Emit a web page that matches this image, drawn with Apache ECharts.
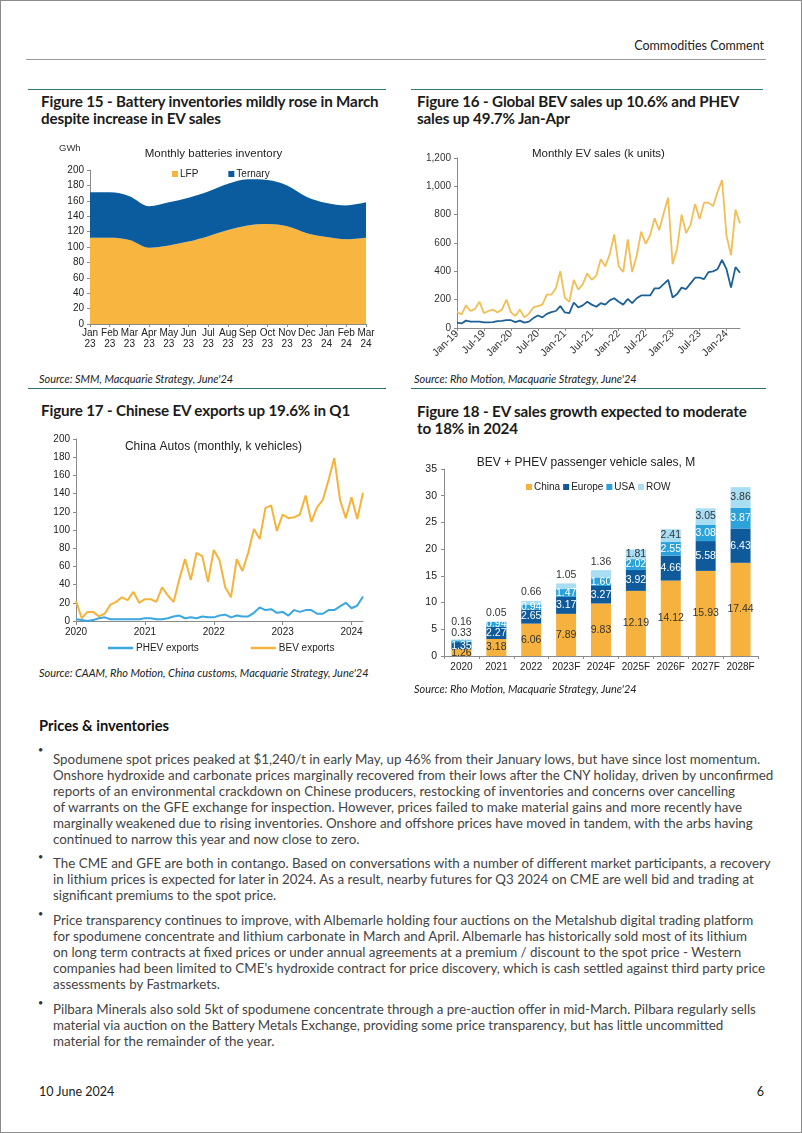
<!DOCTYPE html>
<html><head><meta charset="utf-8">
<script src="https://cdn.jsdelivr.net/npm/echarts@6/dist/echarts.min.js"></script>
<style>
html,body{margin:0;padding:0;background:#fff;}
#page{position:relative;width:802px;height:1133px;border:1px solid #8c8c8c;box-sizing:border-box;overflow:hidden;font-family:Lato,'Liberation Sans',sans-serif;background:#fff;}
.abs{position:absolute;white-space:nowrap;}
.abs span, .para span{display:inline-block;white-space:nowrap;}
.hr{position:absolute;height:0;}
.ftitle{font-weight:bold;color:#1b1b1b;font-size:14px;line-height:17px;}
.src{font-style:italic;color:#222;font-size:10.5px;line-height:12px;}
.chart{position:absolute;}
.para{position:absolute;left:52px;color:#444;font-size:13px;line-height:16.1px;}
.para div{height:16.1px;}
.bul{position:absolute;left:37px;font-size:9px;color:#333;}
</style></head>
<body>
<div id="page">
  <div class="abs" style="right:37px;top:37px;font-size:12.5px;color:#222;"><span>Commodities Comment</span></div>
  <div class="hr" style="left:25px;width:740px;top:58px;border-top:1px solid #9a9a9a;"></div>

  <div class="hr" style="left:27px;width:358px;top:88px;border-top:1px solid #2b7a78;"></div>
  <div class="hr" style="left:410px;width:352px;top:88px;border-top:1px solid #2b7a78;"></div>
  <div class="abs ftitle" style="left:40px;top:92px;"><span id="t15a">Figure 15 - Battery inventories mildly rose in March</span><br><span>despite increase in EV sales</span></div>
  <div class="abs ftitle" style="left:416px;top:92px;"><span>Figure 16 - Global BEV sales up 10.6% and PHEV</span><br><span>sales up 49.7% Jan-Apr</span></div>

  <div id="c15" class="chart" style="left:40px;top:135px;width:345px;height:235px;"></div>
  <div id="c16" class="chart" style="left:410px;top:135px;width:350px;height:235px;"></div>

  <div class="abs src" style="left:38px;top:372px;"><span>Source: SMM, Macquarie Strategy, June'24</span></div>
  <div class="abs src" style="left:413px;top:372px;"><span>Source: Rho Motion, Macquarie Strategy, June'24</span></div>
  <div class="hr" style="left:27px;width:358px;top:387px;border-top:1px solid #2b6f6e;"></div>
  <div class="hr" style="left:410px;width:355px;top:387px;border-top:1px solid #2b6f6e;"></div>

  <div class="abs ftitle" style="left:40px;top:401px;"><span>Figure 17 - Chinese EV exports up 19.6% in Q1</span></div>
  <div class="abs ftitle" style="left:416px;top:402px;"><span>Figure 18 - EV sales growth expected to moderate</span><br><span>to 18% in 2024</span></div>

  <div id="c17" class="chart" style="left:40px;top:425px;width:345px;height:240px;"></div>
  <div id="c18" class="chart" style="left:410px;top:445px;width:350px;height:250px;"></div>

  <div class="abs src" style="left:38px;top:666px;"><span id="srcLong">Source: CAAM, Rho Motion, China customs, Macquarie Strategy, June'24</span></div>
  <div class="abs src" style="left:413px;top:682px;"><span>Source: Rho Motion, Macquarie Strategy, June'24</span></div>

  <div class="abs" style="left:38px;top:716px;font-weight:bold;font-size:15px;color:#111;"><span id="hPrices">Prices &amp; inventories</span></div>

  <div class="bul" style="top:743px;">•</div>
  <div class="para" style="top:750px;">
    <div><span id="bodyRef">Spodumene spot prices peaked at $1,240/t in early May, up 46% from their January lows, but have since lost momentum.</span></div>
    <div><span>Onshore hydroxide and carbonate prices marginally recovered from their lows after the CNY holiday, driven by unconfirmed</span></div>
    <div><span>reports of an environmental crackdown on Chinese producers, restocking of inventories and concerns over cancelling</span></div>
    <div><span>of warrants on the GFE exchange for inspection. However, prices failed to make material gains and more recently have</span></div>
    <div><span>marginally weakened due to rising inventories. Onshore and offshore prices have moved in tandem, with the arbs having</span></div>
    <div><span>continued to narrow this year and now close to zero.</span></div>
  </div>

  <div class="bul" style="top:850px;">•</div>
  <div class="para" style="top:854px;">
    <div><span>The CME and GFE are both in contango. Based on conversations with a number of different market participants, a recovery</span></div>
    <div><span>in lithium prices is expected for later in 2024. As a result, nearby futures for Q3 2024 on CME are well bid and trading at</span></div>
    <div><span>significant premiums to the spot price.</span></div>
  </div>

  <div class="bul" style="top:907px;">•</div>
  <div class="para" style="top:911px;">
    <div><span>Price transparency continues to improve, with Albemarle holding four auctions on the Metalshub digital trading platform</span></div>
    <div><span>for spodumene concentrate and lithium carbonate in March and April. Albemarle has historically sold most of its lithium</span></div>
    <div><span>on long term contracts at fixed prices or under annual agreements at a premium / discount to the spot price - Western</span></div>
    <div><span>companies had been limited to CME's hydroxide contract for price discovery, which is cash settled against third party price</span></div>
    <div><span>assessments by Fastmarkets.</span></div>
  </div>

  <div class="bul" style="top:996px;">•</div>
  <div class="para" style="top:1000px;">
    <div><span>Pilbara Minerals also sold 5kt of spodumene concentrate through a pre-auction offer in mid-March. Pilbara regularly sells</span></div>
    <div><span>material via auction on the Battery Metals Exchange, providing some price transparency, but has little uncommitted</span></div>
    <div><span>material for the remainder of the year.</span></div>
  </div>

  <div class="abs" style="left:38px;top:1083px;font-size:12.5px;color:#222;"><span>10 June 2024</span></div>
  <div class="abs" style="right:37px;top:1083px;font-size:12.5px;color:#222;"><span>6</span></div>
</div>

<script>
// ---------- text fitting ----------
function fitSize(id, target){
  const el=document.getElementById(id);
  const w=el.getBoundingClientRect().width;
  const fs=parseFloat(getComputedStyle(el).fontSize);
  return fs*target/w;
}
(function(){
  const ft=fitSize('t15a',345);
  document.querySelectorAll('.ftitle').forEach(e=>{e.style.fontSize=ft+'px';e.style.lineHeight='17px';e.style.letterSpacing='-0.15px';});
  const bs=fitSize('bodyRef',708);
  document.querySelectorAll('.para').forEach(e=>{e.style.fontSize=bs+'px';});
  const ss=fitSize('srcLong',330);
  document.querySelectorAll('.src').forEach(e=>{e.style.fontSize=ss+'px';});
  const hs=fitSize('hPrices',130);
  document.getElementById('hPrices').parentNode.style.fontSize=hs+'px';
})();

// ---------- data ----------
// Figure 15
const inv15Months = ['Jan\n23','Feb\n23','Mar\n23','Apr\n23','May\n23','Jun\n23','Jul\n23','Aug\n23','Sep\n23','Oct\n23','Nov\n23','Dec\n23','Jan\n24','Feb\n24','Mar\n24'];
const lfpInv     = [112,112,109, 99,102,107,114,122,128,130,127,118,113,110,112];
const ternaryInv = [ 59, 59, 57, 54, 56, 57, 58, 60, 60, 57, 53, 47, 44, 44, 46];
const inv15Ticks = [0,200,20];

// Figure 16
const evMonths = [
 'Jan-19','Feb-19','Mar-19','Apr-19','May-19','Jun-19','Jul-19','Aug-19','Sep-19','Oct-19','Nov-19','Dec-19',
 'Jan-20','Feb-20','Mar-20','Apr-20','May-20','Jun-20','Jul-20','Aug-20','Sep-20','Oct-20','Nov-20','Dec-20',
 'Jan-21','Feb-21','Mar-21','Apr-21','May-21','Jun-21','Jul-21','Aug-21','Sep-21','Oct-21','Nov-21','Dec-21',
 'Jan-22','Feb-22','Mar-22','Apr-22','May-22','Jun-22','Jul-22','Aug-22','Sep-22','Oct-22','Nov-22','Dec-22',
 'Jan-23','Feb-23','Mar-23','Apr-23','May-23','Jun-23','Jul-23','Aug-23','Sep-23','Oct-23','Nov-23','Dec-23',
 'Jan-24','Feb-24','Mar-24','Apr-24'];
const bevSales = [
 115, 95,160,120,135,185,105,120,130,110,130,200,
 110, 85,130, 75,100,145,155,165,235,235,280,400,
 215,185,340,270,310,385,340,370,485,435,520,660,
 435,395,625,395,510,680,595,655,775,690,810,920,
 450,560,800,670,730,875,770,885,885,860,960,1045,
 650,515,835,740];
const phevSales = [
  38, 32, 52, 45, 45, 45, 40, 40, 42, 48, 50, 55,
  55, 42, 52, 38, 45, 70, 88, 75,100,112,120,155,
 110,105,180,145,160,185,165,150,175,165,195,210,
 185,165,205,175,210,230,230,230,280,280,310,340,
 215,240,285,275,315,355,355,345,395,400,415,480,
 415,285,430,390];

// Figure 17
const expMonths = [
 'Jan-20','Feb-20','Mar-20','Apr-20','May-20','Jun-20','Jul-20','Aug-20','Sep-20','Oct-20','Nov-20','Dec-20',
 'Jan-21','Feb-21','Mar-21','Apr-21','May-21','Jun-21','Jul-21','Aug-21','Sep-21','Oct-21','Nov-21','Dec-21',
 'Jan-22','Feb-22','Mar-22','Apr-22','May-22','Jun-22','Jul-22','Aug-22','Sep-22','Oct-22','Nov-22','Dec-22',
 'Jan-23','Feb-23','Mar-23','Apr-23','May-23','Jun-23','Jul-23','Aug-23','Sep-23','Oct-23','Nov-23','Dec-23',
 'Jan-24','Feb-24','Mar-24'];
const bevExports = [
 22,  3, 10, 10,  5,  8, 18, 21, 26, 23, 32, 20,
 24, 24, 21, 37, 28, 21, 46, 68, 45, 75, 71, 43,
 78, 67, 37, 26, 68, 55, 75,101, 90,124,127, 99,
117,113,114,117,138,109,125,133,155,179,133,113,
136,112,141];
const phevExports = [
  2,  1,  0,  1,  3,  4,  2,  2,  2,  2,  2,  2,
  3,  3,  2,  2,  3,  5,  6,  3,  4,  3,  5,  4,
  4,  6,  7,  4,  6,  5,  5,  9, 15, 12, 13,  9,
 10,  6, 12, 10, 12, 12,  8,  8, 12, 12, 16, 20,
 14, 17, 27];

// Figure 18
const salesYears = ['2020','2021','2022','2023F','2024F','2025F','2026F','2027F','2028F'];
const chinaSales  = [1.26, 3.18, 6.06, 7.89, 9.83,12.19,14.12,15.93,17.44];
const europeSales = [1.35, 2.27, 2.65, 3.17, 3.27, 3.92, 4.66, 5.58, 6.43];
const usaSales    = [0.33, 0.94, 0.94, 1.47, 1.60, 2.02, 2.55, 3.08, 3.87];
const rowSales    = [0.16, 0.05, 0.66, 1.05, 1.36, 1.81, 2.41, 3.05, 3.86];

// ---------- charts ----------
const FONT = "'Liberation Sans', Arial, sans-serif";
const axisGray = '#8a8a8a';

// Figure 15
const c15 = echarts.init(document.getElementById('c15'));
c15.setOption({
  animation:false,
  textStyle:{fontFamily:FONT},
  title:{text:'Monthly batteries inventory',left:'center',top:7,textStyle:{fontSize:11.5,fontWeight:'normal',color:'#222',fontFamily:FONT}},
  graphic:[{type:'text',left:18,top:7,style:{text:'GWh',fontSize:9.5,fill:'#333',fontFamily:FONT}}],
  legend:{left:126,top:28,itemWidth:6,itemHeight:6,itemGap:30,icon:'rect',textStyle:{fontSize:10,color:'#222',fontFamily:FONT,padding:[0,0,0,-3]},data:['LFP','Ternary']},
  grid:{left:49,right:20,top:34,bottom:47},
  xAxis:{type:'category',boundaryGap:false,data:inv15Months,
    axisLine:{lineStyle:{color:axisGray}},axisTick:{show:true,interval:0,length:3,lineStyle:{color:axisGray}},
    axisLabel:{interval:0,fontSize:10,color:'#222',lineHeight:11,margin:4,fontFamily:FONT}},
  yAxis:{type:'value',min:inv15Ticks[0],max:inv15Ticks[1],interval:inv15Ticks[2],splitLine:{show:false},
    axisLine:{show:true,lineStyle:{color:axisGray}},axisTick:{show:true,length:3,lineStyle:{color:axisGray}},
    axisLabel:{fontSize:10,color:'#222',margin:6,fontFamily:FONT}},
  series:[
    {name:'LFP',type:'line',stack:'inv',data:lfpInv,smooth:0.35,showSymbol:false,lineStyle:{width:0},areaStyle:{color:'#F8B540',opacity:1},itemStyle:{color:'#F8B540'}},
    {name:'Ternary',type:'line',stack:'inv',data:ternaryInv,smooth:0.35,showSymbol:false,lineStyle:{width:0},areaStyle:{color:'#0B5C9E',opacity:1},itemStyle:{color:'#0B5C9E'}}
  ]
});

// Figure 16
const c16 = echarts.init(document.getElementById('c16'));
c16.setOption({
  animation:false,
  textStyle:{fontFamily:FONT},
  title:{text:'Monthly EV sales (k units)',left:116,top:7,textStyle:{fontSize:11.5,fontWeight:'normal',color:'#222',fontFamily:FONT}},
  grid:{left:46,right:21,top:22,bottom:43},
  xAxis:{type:'category',boundaryGap:false,data:evMonths,
    axisLine:{lineStyle:{color:axisGray}},axisTick:{show:true,interval:5,length:3,lineStyle:{color:axisGray}},
    axisLabel:{interval:5,rotate:45,fontSize:10.5,color:'#333',margin:4,fontFamily:FONT,hideOverlap:false,overflow:'none'}},
  yAxis:{type:'value',min:0,max:1200,interval:200,splitLine:{show:false},
    axisLine:{show:true,lineStyle:{color:axisGray}},axisTick:{show:true,length:3,lineStyle:{color:axisGray}},
    axisLabel:{fontSize:10,color:'#333',margin:6,fontFamily:FONT}},
  series:[
    {name:'BEV',type:'line',data:bevSales,showSymbol:false,lineStyle:{width:1.8,color:'#F2BE55'},itemStyle:{color:'#F2BE55'}},
    {name:'PHEV',type:'line',data:phevSales,showSymbol:false,lineStyle:{width:1.8,color:'#1D6096'},itemStyle:{color:'#1D6096'}}
  ]
});

// Figure 17
const c17 = echarts.init(document.getElementById('c17'));
c17.setOption({
  animation:false,
  textStyle:{fontFamily:FONT},
  title:{text:'China Autos (monthly, k vehicles)',left:'center',top:10,textStyle:{fontSize:12,fontWeight:'normal',color:'#222',fontFamily:FONT}},
  legend:{left:62,top:212,itemWidth:25,itemHeight:2.5,icon:'rect',itemGap:52,textStyle:{fontSize:10,color:'#222',fontFamily:FONT,padding:[0,0,0,-2]},data:['PHEV exports','BEV exports']},
  grid:{left:35,right:23,top:13,bottom:45},
  xAxis:{type:'category',boundaryGap:false,data:expMonths,
    axisLine:{lineStyle:{color:axisGray}},axisTick:{show:true,interval:11,length:4,lineStyle:{color:axisGray}},
    axisLabel:{interval:11,fontSize:10,color:'#222',margin:6,fontFamily:FONT,formatter:v=>'20'+v.slice(4)}},
  yAxis:{type:'value',min:0,max:200,interval:20,splitLine:{show:false},
    axisLine:{show:true,lineStyle:{color:axisGray}},axisTick:{show:true,length:3,lineStyle:{color:axisGray}},
    axisLabel:{fontSize:10,color:'#222',margin:6,fontFamily:FONT}},
  series:[
    {name:'PHEV exports',type:'line',data:phevExports,showSymbol:false,lineStyle:{width:2,color:'#3AA8DE'},itemStyle:{color:'#3AA8DE'}},
    {name:'BEV exports',type:'line',data:bevExports,showSymbol:false,lineStyle:{width:2,color:'#F5B33A'},itemStyle:{color:'#F5B33A'}}
  ]
});

// Figure 18
const regionNames = ['China','Europe','USA','ROW'];
const regionVals = [chinaSales, europeSales, usaSales, rowSales];
const regionColors = ['#F6B23E','#0E5A9A','#2BA3DA','#A9DDF3'];
const c18 = echarts.init(document.getElementById('c18'));
c18.setOption({
  animation:false,
  textStyle:{fontFamily:FONT},
  title:{text:'BEV + PHEV passenger vehicle sales, M',left:'center',top:6,textStyle:{fontSize:12,fontWeight:'normal',color:'#222',fontFamily:FONT}},
  legend:{left:110,top:31,itemWidth:6,itemHeight:6,itemGap:3,icon:'rect',textStyle:{fontSize:10,color:'#222',fontFamily:FONT,padding:[0,0,0,-3]},data:regionNames},
  grid:{left:33,right:3,top:23,bottom:40},
  xAxis:{type:'category',data:salesYears,
    axisLine:{lineStyle:{color:axisGray}},axisTick:{show:true,length:3,lineStyle:{color:axisGray}},
    axisLabel:{interval:0,hideOverlap:false,fontSize:10,color:'#222',margin:6,fontFamily:FONT}},
  yAxis:{type:'value',min:0,max:35,interval:5,splitLine:{show:false},
    axisLine:{show:true,lineStyle:{color:axisGray}},axisTick:{show:true,length:3,lineStyle:{color:axisGray}},
    axisLabel:{fontSize:10.5,color:'#222',margin:7,fontFamily:FONT}},
  series: regionNames.map((name,k)=>({
    name, type:'bar', stack:'total', barWidth:20,
    itemStyle:{color:regionColors[k]},
    label:{show:true,position:'inside',fontSize:10.5,fontFamily:FONT,color:(k===1||k===2)?'#fff':'#333',formatter:p=>p.value.toFixed(2)},
    data: regionVals[k].map((v,i)=>{
      const item={value:v};
      if(k===3 && i<5) item.label={position:'top',distance:i===0?12:3,color:'#333'};
      if(k===2 && i===0) item.label={position:'top',distance:2,color:'#333'};
      return item;
    })
  }))
});
</script>
</body></html>
